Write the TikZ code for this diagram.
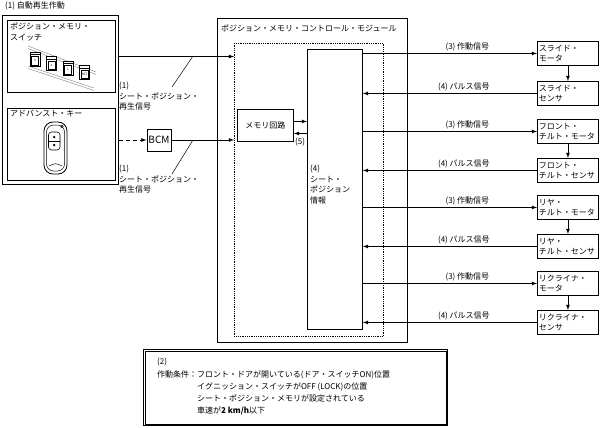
\documentclass[tikz,border=0pt]{standalone}
\usepackage{fontspec}
\setmainfont{Noto Sans CJK JP}
\usetikzlibrary{calc}

\begin{document}
\begin{tikzpicture}[x=1pt,y=-1pt,>=latex,
  every node/.style={font=\fontsize{8}{10.5}\selectfont},
  partBox/.style={draw,line width=0.9pt,anchor=north west,inner sep=1.5pt,
    text width=58pt,minimum height=24pt,align=left},
  frameBox/.style={draw,anchor=north west,inner sep=0pt},
  plainText/.style={anchor=north west,inner sep=0pt,align=left},
  sigLine/.style={line width=0.8pt}]
\useasboundingbox (0,0) rectangle (602,428);

% left side: switch, key, BCM
\node[plainText] (autoTitle) at (5,2) {(1) 自動再生作動};
\node[frameBox,line width=1pt,minimum width=116pt,minimum height=169pt] (leftPanel) at (2,15) {};
\node[frameBox,line width=1pt,minimum width=108pt,minimum height=72pt] (switchBox) at (7,20) {};
\node[plainText] (switchName) at (10,23) {ポジション・メモリ・\\スイッチ};
\node[frameBox,line width=1pt,minimum width=108pt,minimum height=72pt] (keyBox) at (7,108) {};
\node[plainText] (keyName) at (10,110) {アドバンスト・キー};

% switch panel
\draw[gray,thin] (28,46)--(96,72) (28,48.5)--(96,74.5);
\draw[gray,thin] (28,66)--(94,88) (28,68.5)--(94,90.5);
\foreach \lbl [count=\i] in {3,2,1,SET}{
  \draw[fill=white,line width=0.5pt] ({30+(\i-1)*16.5},{52+(\i-1)*4.5}) rectangle ++(10,14);
  \draw[line width=0.5pt] ({30+(\i-1)*16.5},{54.5+(\i-1)*4.5}) -- ++(10,0);
  \draw[line width=0.6pt] ({31.5+(\i-1)*16.5},{56.5+(\i-1)*4.5}) rectangle ++(7,8.5)
    node[midway,inner sep=0pt,font=\fontsize{3}{3}\selectfont]{\lbl};
}

% key fob
\draw[line width=0.8pt,rounded corners=9pt] (44,122) rectangle (67,174);
\draw[line width=0.5pt,rounded corners=7pt] (46.5,125) rectangle (64.5,171);
\draw[line width=0.6pt,rounded corners=3pt] (48.5,132) rectangle (60,150);
\draw[line width=0.5pt] (48.5,141) -- (60,141);
\fill (54.2,137) circle (1.3);
\fill (54.2,145) circle (1.3);
\draw[line width=0.5pt] (62,126.5) circle (1.2);
\draw[line width=0.5pt] (49,166) .. controls (55.5,163) .. (62,166);

\node[draw,line width=0.9pt,minimum width=24pt,minimum height=22pt,inner sep=0pt,
  font=\fontsize{10}{10}\selectfont] (bcm) at (159,140) {BCM};

% module
\node[frameBox,line width=1.2pt,minimum width=190pt,minimum height=324pt] (module) at (217,18) {};
\node[plainText] (moduleName) at (221,25) {ポジション・メモリ・コントロール・モジュール};
\node[frameBox,densely dotted,line width=0.8pt,minimum width=149pt,minimum height=293pt] (dashBox) at (234,43) {};
\node[frameBox,line width=0.9pt,minimum width=56pt,minimum height=32pt] (memCircuit) at (237,109) {メモリ回路};
\node[frameBox,line width=0.9pt,minimum width=55pt,minimum height=280pt] (seatInfo) at (307,49) {};
\node[plainText] (seatName) at (310,165) {(4)\\シート・\\ポジション\\情報};

\draw[sigLine,->] ([yshift=4pt]memCircuit.east) -- ([yshift=4pt]memCircuit.east -| seatInfo.west);
\draw[sigLine,<-] ([yshift=-8pt]memCircuit.east) -- ([yshift=-8pt]memCircuit.east -| seatInfo.west);
\node[plainText] (loopLabel) at (295,138) {(5)};

% inputs
\draw[sigLine,->] (switchBox.east -| leftPanel.east) -- (switchBox.east -| dashBox.west);
\draw[sigLine,->,dash pattern=on 4pt off 3pt] (bcm.west -| leftPanel.east) -- (bcm.west);
\draw[sigLine,->] (bcm.east) -- (bcm.east -| dashBox.west);

\coordinate (slashA) at (193,56);
\coordinate (slashB) at (193,140);
\draw[line width=0.5pt] (slashA) -- ++(-21,31);
\draw[line width=0.5pt] (slashB) -- ++(-21,34);
\node[plainText] (sigLabelA) at (119,82) {(1)\\シート・ポジション・\\再生信号};
\node[plainText] (sigLabelB) at (119,165) {(1)\\シート・ポジション・\\再生信号};

% motors and sensors
\node[partBox] (slideMotor) at (537,41) {スライド・\\モータ};
\node[partBox] (slideSensor) at (537,81) {スライド・\\センサ};
\node[partBox] (frontMotor) at (537,119) {フロント・\\チルト・モータ};
\node[partBox] (frontSensor) at (537,158) {フロント・\\チルト・センサ};
\node[partBox] (rearMotor) at (537,195) {リヤ・\\チルト・モータ};
\node[partBox] (rearSensor) at (537,234) {リヤ・\\チルト・センサ};
\node[partBox] (reclMotor) at (537,271) {リクライナ・\\モータ};
\node[partBox] (reclSensor) at (537,310) {リクライナ・\\センサ};

\foreach \side in {slide,front,rear,recl}{
  \draw[sigLine,->] (seatInfo.east |- \side Motor.west) -- node[above,pos=0.6,inner sep=1.5pt]{(3) 作動信号} (\side Motor.west);
  \draw[sigLine,<-] (seatInfo.east |- \side Sensor.west) -- node[above,pos=0.58,inner sep=1.5pt]{(4) パルス信号} (\side Sensor.west);
  \draw[sigLine,->] (\side Motor.south) -- (\side Sensor.north);
}

% conditions
\node[frameBox,line width=1.3pt,minimum width=304pt,minimum height=76pt] (condBox) at (143,349) {};
\draw[line width=0.5pt] ([shift={(2.5,2.5)}]condBox.north west) rectangle ([shift={(-2.5,-2.5)}]condBox.south east);
\node[plainText,font=\fontsize{8}{12.3}\selectfont] (condText) at (157,358)
  {(2)\\
   作動条件：フロント・ドアが開いている(ドア・スイッチON)位置\\
   \phantom{作動条件：}イグニッション・スイッチがOFF (LOCK)の位置\\
   \phantom{作動条件：}シート・ポジション・メモリが設定されている\\
   \phantom{作動条件：}車速が{\bfseries 2 km/h}以下};

\end{tikzpicture}
\end{document}
